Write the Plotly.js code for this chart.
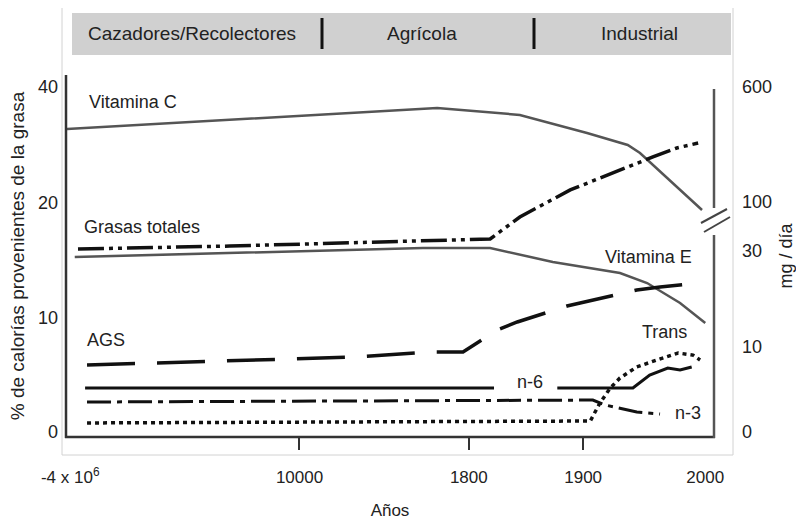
<!DOCTYPE html>
<html>
<head>
<meta charset="utf-8">
<script src="https://cdn.plot.ly/plotly-3.0.1.min.js"></script>
<style>html,body{margin:0;padding:0;background:#fff;}#chart{width:796px;height:520px;}</style>
</head>
<body>
<div id="chart"></div>
<script>
// ---- Data (x: relative position on the time axis 0-100, y: position on the left scale) ----
const xTickText = ['-4 x 10<sup>6</sup>', '10000', '1800', '1900', '2000'];
const xTickVals = [0.5, 36.0, 62.2, 79.9, 98.8];
const xTickMarkVals = [35.9, 62.2, 79.9];

const yLeftTickText = ['0', '10', '20', '40'];
const yLeftTickVals = [0, 9.96, 20, 30.13];
const yRightTickText = ['0', '10', '30', '100', '600'];
const yRightTickVals = [0, 7.42, 15.81, 20.09, 30.13];

const periods = ['Cazadores/Recolectores', 'Agrícola', 'Industrial'];

const vitCX = [0, 57.3, 70.1, 80.5, 86.8, 88.7, 98.3];
const vitCY = [26.46, 28.30, 27.69, 26.11, 25.07, 24.37, 19.39];

const grasasX = [1.7, 25.2, 65.5, 70.1, 77.9, 86.7, 90.7, 94.4, 97.7];
const grasasY = [15.98, 16.24, 16.86, 18.78, 21.14, 23.14, 24.02, 24.80, 25.24];

const vitEX = [1.2, 25.2, 55.1, 65.5, 75.2, 85.6, 89.8, 94.9, 98.8];
const vitEY = [15.28, 15.63, 16.07, 16.07, 14.85, 13.89, 13.01, 11.27, 9.52];

const agsX = [3.1, 33.4, 44.9, 55.9, 61.3, 66.6, 69.7, 77.4, 88.2, 91.8, 97.7];
const agsY = [5.85, 6.38, 6.55, 6.99, 6.99, 8.91, 9.61, 11.0, 12.40, 12.66, 13.01];

const n6X = [2.8, 66.1, null, 75.9, 87.6, 90.2, 93.0, 94.9, 96.7];
const n6Y = [3.84, 3.84, null, 3.84, 3.84, 4.98, 5.59, 5.41, 5.68];

const n3X = [3.1, 81.4, 83.3, 88.2, 91.8];
const n3Y = [2.62, 2.79, 2.36, 1.75, 1.57];

const transX = [3.1, 81.0, 82.5, 84.1, 85.6, 88.2, 91.3, 94.6, 96.9, 98.0];
const transY = [0.79, 0.96, 2.53, 3.84, 4.72, 5.68, 6.29, 6.90, 6.72, 6.29];

const seriesLabels = [
  {text: 'Vitamina C', x: 3.1, y: 28.82},
  {text: 'Grasas totales', x: 2.3, y: 17.9},
  {text: 'AGS', x: 2.8, y: 8.03},
  {text: 'Vitamina E', x: 83.0, y: 15.28},
  {text: 'Trans', x: 88.7, y: 8.73},
  {text: 'n-6', x: 69.3, y: 4.37},
  {text: 'n-3', x: 93.8, y: 1.66}
];

// ---- Chart ----
const FONT = 'Liberation Sans, Arial, sans-serif';
const TXT = '#222';
const PL = 67, PR = 713, PT = 75, PB = 437;
const pxX = v => (v - PL) / (PR - PL);
const pxY = v => (PB - v) / (PB - PT);

function tr(name, x, y, color, width, dash) {
  return {type: 'scatter', mode: 'lines', name: name, x: x, y: y,
    line: {color: color, width: width, dash: dash}, connectgaps: false,
    hoverinfo: 'skip', showlegend: false};
}

const traces = [
  tr('Vitamina C', vitCX, vitCY, '#555', 2.5, 'solid'),
  tr('Grasas totales', grasasX, grasasY, '#111', 3.5, '26px,5px,4px,5px,4px,5px'),
  tr('Vitamina E', vitEX, vitEY, '#555', 2.5, 'solid'),
  tr('AGS', agsX, agsY, '#111', 3.5, '48px,22px'),
  tr('n-6', n6X, n6Y, '#111', 3, 'solid'),
  tr('n-3', n3X, n3Y, '#111', 3, '24px,6px,5px,6px'),
  tr('Trans', transX, transY, '#111', 3.5, '4px,4px')
];

function seg(x0, y0, x1, y1, color, width) {
  return {type: 'line', xref: 'paper', yref: 'paper', x0: pxX(x0), y0: pxY(y0), x1: pxX(x1), y1: pxY(y1),
    line: {color: color, width: width}, layer: 'above'};
}

const shapes = [
  // outer light frame
  seg(62, 8, 62, 455, '#d2d2d2', 1),
  seg(62, 455, 733, 455, '#d2d2d2', 1),
  seg(733, 8, 733, 455, '#d2d2d2', 1),
  // inner axes frame
  seg(66, 75, 66, 438, '#333', 2.5),
  seg(65, 437, 715, 437, '#333', 2.5),
  seg(714, 89, 714, 208, '#555', 2.5),
  seg(714, 235, 714, 438, '#555', 2.5),
  // axis break marks
  seg(701, 223, 727, 209, '#444', 2),
  seg(704, 232, 730, 217, '#444', 2),
  // header band
  {type: 'rect', xref: 'paper', yref: 'paper', x0: pxX(72), x1: pxX(731), y0: pxY(55), y1: pxY(13),
    fillcolor: '#d0d0d0', line: {width: 0}, layer: 'below'},
  seg(322, 18, 322, 49, '#111', 3),
  seg(534, 18, 534, 49, '#111', 3)
];

const periodX = [192, 422, 639];
const annotations = periods.map((p, i) => ({
  text: p, xref: 'paper', yref: 'paper', x: pxX(periodX[i]), y: pxY(34),
  xanchor: 'center', yanchor: 'middle', showarrow: false,
  font: {family: FONT, size: 19, color: TXT}
})).concat(seriesLabels.map(l => ({
  text: l.text, x: l.x, y: l.y, xref: 'x', yref: 'y', xanchor: 'left', yanchor: 'middle',
  showarrow: false, font: {family: FONT, size: 18, color: TXT}
})));

const yRange = [(432 - PB) / 11.45, (432 - PT) / 11.45];

const layout = {
  width: 796, height: 520,
  margin: {l: PL, r: 796 - PR, t: PT, b: 520 - PB, pad: 0},
  paper_bgcolor: '#fff', plot_bgcolor: '#fff',
  font: {family: FONT, color: TXT, size: 17},
  showlegend: false,
  xaxis: {
    range: [0, 100], showgrid: false, zeroline: false, showline: false,
    tickmode: 'array', tickvals: xTickVals, ticktext: xTickText, ticks: '',
    ticklabelstandoff: 28, tickfont: {family: FONT, size: 17, color: TXT},
    title: {text: 'Años', font: {family: FONT, size: 17, color: TXT}, standoff: 19},
    automargin: false, fixedrange: true
  },
  xaxis2: {
    overlaying: 'x', anchor: 'y', side: 'bottom', range: [0, 100],
    showgrid: false, zeroline: false, showline: false,
    tickmode: 'array', tickvals: xTickMarkVals, ticks: 'outside', ticklen: 12,
    tickwidth: 2, tickcolor: '#333', showticklabels: false, fixedrange: true
  },
  yaxis: {
    range: yRange, showgrid: false, zeroline: false, showline: false,
    tickmode: 'array', tickvals: yLeftTickVals, ticktext: yLeftTickText, ticks: '',
    ticklabelstandoff: 8, tickfont: {family: FONT, size: 18, color: TXT},
    title: {text: '% de calorías provenientes de la grasa', font: {family: FONT, size: 19, color: TXT}, standoff: 8},
    automargin: false, fixedrange: true
  },
  yaxis2: {
    overlaying: 'y', side: 'right', anchor: 'x', range: yRange,
    showgrid: false, zeroline: false, showline: false,
    tickmode: 'array', tickvals: yRightTickVals, ticktext: yRightTickText, ticks: '',
    ticklabelstandoff: 28, tickfont: {family: FONT, size: 18, color: TXT},
    title: {text: 'mg / día', font: {family: FONT, size: 18, color: TXT}, standoff: 8},
    automargin: false, fixedrange: true
  },
  shapes: shapes,
  annotations: annotations
};

// a hidden trace binds the overlay axes
traces.push({type: 'scatter', mode: 'none', x: [0], y: [0], xaxis: 'x2', yaxis: 'y2',
  hoverinfo: 'skip', showlegend: false});

Plotly.newPlot('chart', traces, layout, {staticPlot: true, displayModeBar: false});
</script>
</body>
</html>
